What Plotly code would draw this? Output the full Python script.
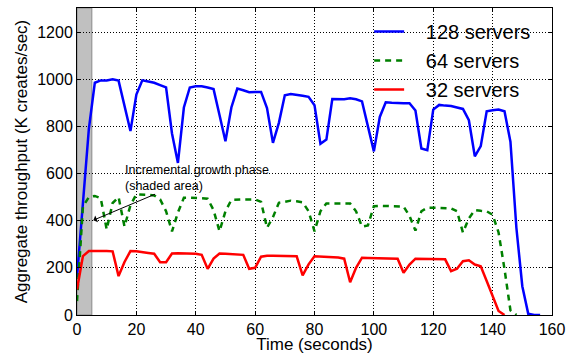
import plotly.graph_objects as go

time_s = list(range(0, 158, 2))

s128 = [160, 480, 790, 985, 995, 995, 1000, 994, 885, 780, 935, 995, 990, 985, 975, 965,
        770, 645, 880, 965, 970, 970, 965, 958, 848, 737, 880, 960, 953, 945, 946, 946,
        878, 730, 815, 932, 937, 935, 930, 925, 890, 726, 744, 916, 915, 915, 919, 915,
        906, 800, 694, 840, 902, 900, 898, 898, 898, 867, 706, 699, 871, 891, 888, 886,
        880, 874, 826, 673, 716, 864, 868, 871, 864, 735, 370, 122, 5, 0, 0]

s64 = [59, 460, 500, 505, 495, 363, 475, 500, 375, 465, 512, 512, 510, 507, 490, 440,
       355, 435, 497, 497, 497, 495, 493, 445, 355, 440, 488, 490, 490, 490, 490, 480,
       370, 415, 476, 480, 485, 482, 478, 440, 355, 440, 473, 473, 473, 473, 473, 440,
       375, 380, 461, 463, 462, 461, 461, 460, 420, 358, 440, 455, 455, 455, 453, 452,
       440, 350, 410, 445, 442, 440, 425, 350, 195, 20, 0]

s32 = [108, 250, 271, 272, 272, 271, 270, 165, 225, 271, 270, 268, 263, 260, 224, 224,
       261, 262, 262, 262, 260, 255, 196, 239, 261, 260, 259, 258, 255, 196, 200, 247,
       251, 251, 250, 250, 250, 249, 168, 215, 249, 248, 247, 246, 244, 239, 139, 200,
       243, 242, 242, 242, 242, 241, 239, 179, 214, 239, 238, 238, 237, 237, 236, 186,
       196, 228, 232, 214, 207, 144, 80, 17, 0]

series_names = ["128 servers", "64 servers", "32 servers"]
x_ticks = [0, 20, 40, 60, 80, 100, 120, 140, 160]
y_ticks = [0, 200, 400, 600, 800, 1000, 1200]
shade_end = 5

FONT = "Liberation Sans, Arial, Helvetica, sans-serif"
PAD = "\u00a0\u00a0\u00a0"

fig = go.Figure()
fig.add_trace(go.Scatter(x=time_s[:len(s128)], y=s128, mode="lines", name=PAD + series_names[0],
                         line=dict(color="#0000ff", width=2.5)))
fig.add_trace(go.Scatter(x=time_s[:len(s64)], y=s64, mode="lines", name=PAD + series_names[1],
                         line=dict(color="#008000", width=2.5, dash="6px,5px")))
fig.add_trace(go.Scatter(x=time_s[:len(s32)], y=s32, mode="lines", name=PAD + series_names[2],
                         line=dict(color="#ff0000", width=2.5)))

fig.add_shape(type="rect", xref="x", yref="y domain", x0=0, x1=shade_end, y0=0, y1=1,
              fillcolor="#c0c0c0", line=dict(color="#8a8a8a", width=1), layer="below")

fig.add_annotation(x=5.5, y=402, ax=26.8, ay=515, xref="x", yref="y", axref="x", ayref="y",
                   text="", showarrow=True, arrowhead=1, arrowsize=1.2, arrowwidth=1,
                   arrowcolor="black")
fig.add_annotation(x=15.4, y=580, xref="x", yref="y", xanchor="left", yanchor="middle",
                   text="Incremental growth phase<br>(shaded area)", showarrow=False, align="left",
                   font=dict(family=FONT, size=12.5, color="black"))

axis_common = dict(showline=True, linecolor="black", linewidth=1, mirror="allticks",
                   ticks="inside", ticklen=4, tickcolor="black", automargin=False,
                   showgrid=True, gridcolor="black", gridwidth=1, griddash="1px,2px",
                   zeroline=False, tickfont=dict(family=FONT, size=16, color="black"))

fig.update_xaxes(range=[0, 160], tickvals=x_ticks, ticktext=[str(v) for v in x_ticks],
                 title=dict(text="Time (seconds)", font=dict(family=FONT, size=17, color="black"),
                            standoff=4),
                 **axis_common)
fig.update_yaxes(range=[0, 1302], tickvals=y_ticks, ticktext=[str(v) for v in y_ticks],
                 title=dict(text="Aggregate throughput (K creates/sec)",
                            font=dict(family=FONT, size=17, color="black"), standoff=5),
                 **axis_common)

fig.update_layout(
    width=579, height=354,
    margin=dict(l=77, r=27, t=8, b=39, autoexpand=False),
    paper_bgcolor="white", plot_bgcolor="white",
    showlegend=True,
    legend=dict(x=0.615, y=0.987, xanchor="left", yanchor="top", bgcolor="rgba(0,0,0,0)",
                borderwidth=0, font=dict(family=FONT, size=20, color="black"),
                itemwidth=30, tracegroupgap=0),
)

fig.write_html("out.html", config={"displayModeBar": False},
               post_script="document.body.style.margin='0';document.body.style.padding='0';")
